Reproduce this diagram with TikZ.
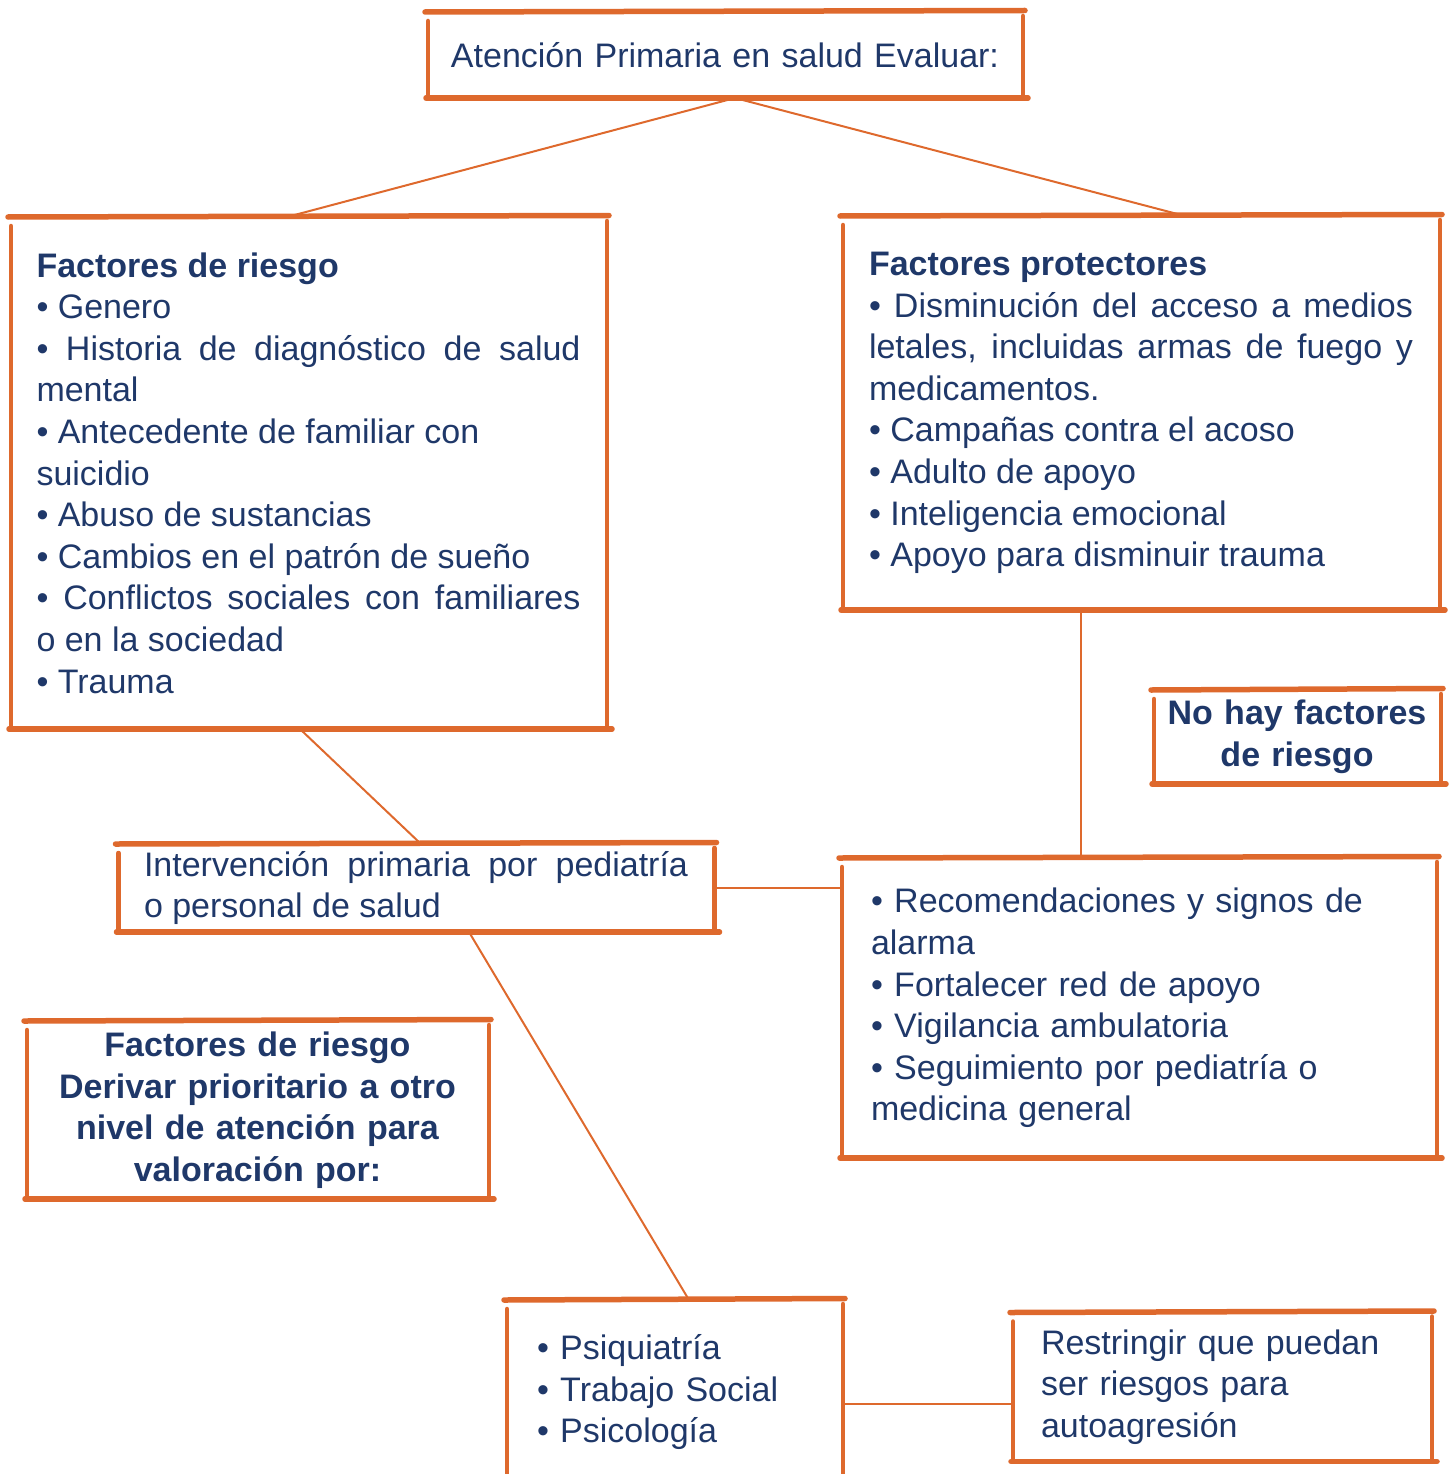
\documentclass[tikz,border=0pt]{standalone}
\usepackage{fontspec}
\setmainfont{Liberation Sans}
\usepackage{xcolor}
\definecolor{rust}{RGB}{222,105,45}
\definecolor{navy}{RGB}{31,56,105}
\hyphenpenalty=10000
\exhyphenpenalty=10000
\tolerance=10000

\begin{document}
\begin{tikzpicture}[x=1pt, y=-1pt,
  sketch/.style={draw=rust, line cap=round},
  sketchbox/.style={inner ysep=0pt, outer sep=0pt, text=navy,
    font=\fontsize{34}{41.6}\selectfont,
    append after command={
      ([xshift=-2pt]\tikzlastnode.north west) edge[sketch, line width=5.5pt] ([xshift=2pt, yshift=1.5pt]\tikzlastnode.north east)
      ([xshift=1pt, yshift=-9pt]\tikzlastnode.north west) edge[sketch, line width=4.5pt] ([xshift=1pt, yshift=2pt]\tikzlastnode.south west)
      ([yshift=-4pt]\tikzlastnode.north east) edge[sketch, line width=4.5pt] ([yshift=1pt]\tikzlastnode.south east)
      ([xshift=-1pt]\tikzlastnode.south west) edge[sketch, line width=5.5pt] ([xshift=5pt]\tikzlastnode.south east)
    }},
  link/.style={draw=rust, line width=2pt}]
\useasboundingbox (0,0) rectangle (1448,1474);

% Top of the chart
\node[sketchbox, minimum width=596pt, minimum height=86pt, text width=560pt, align=center] (evaluar) at (725,55) {Atención Primaria en salud Evaluar:};

% Risk and protective factors
\node[sketchbox, minimum width=597pt, minimum height=512pt, inner xsep=26.5pt, text width=544pt, align=justify] (riesgo) at (308.5,473) {\textbf{Factores de riesgo}\\
• Genero\\
• Historia de diagnóstico de salud\linebreak mental\\
• Antecedente de familiar con\\ suicidio\\
• Abuso de sustancias\\
• Cambios en el patrón de sueño\\
• Conflictos sociales con familiares\linebreak o en la sociedad\\
• Trauma};

\node[sketchbox, minimum width=598pt, minimum height=394pt, inner xsep=27pt, text width=544pt, align=justify] (protect) at (1141,413) {\textbf{Factores protectores}\\
• Disminución del acceso a medios\linebreak letales, incluidas armas de fuego y\linebreak medicamentos.\\
• Campañas contra el acoso\\
• Adulto de apoyo\\
• Inteligencia emocional\\
• Apoyo para disminuir trauma};

\node[sketchbox, minimum width=288pt, minimum height=94pt, inner xsep=9pt, text width=270pt, align=center, font=\fontsize{34}{41.6}\selectfont\bfseries] (nohay) at (1297,737) {No hay factores\\ de riesgo};

% Intervention and follow-up
\node[sketchbox, minimum width=597pt, minimum height=88pt, inner xsep=26.5pt, text width=544pt, align=justify] (interv) at (416,888) {Intervención primaria por pediatría\linebreak o personal de salud};

\node[sketchbox, minimum width=596pt, minimum height=300pt, inner xsep=30pt, text width=536pt, align=left] (seguim) at (1139,1008) {• Recomendaciones y signos de\\ alarma\\
• Fortalecer red de apoyo\\
• Vigilancia ambulatoria\\
• Seguimiento por pediatría o\\ medicina general};

\node[sketchbox, minimum width=463pt, minimum height=178pt, inner xsep=10pt, text width=443pt, align=center, font=\fontsize{34}{41.6}\selectfont\bfseries] (derivar) at (257.5,1110) {Factores de riesgo\\ Derivar prioritario a otro\\ nivel de atención para\\ valoración por:};

% Referral
\node[sketchbox, minimum width=337pt, minimum height=184pt, inner xsep=31pt, text width=275pt, align=left] (especial) at (674.5,1392) {• Psiquiatría\\
• Trabajo Social\\
• Psicología};

\node[sketchbox, minimum width=420pt, minimum height=149pt, inner xsep=29pt, text width=362pt, align=left] (restring) at (1222,1387) {Restringir que puedan\\ ser riesgos para\\ autoagresión};

% Connectors
\draw[link] ([xshift=10pt]evaluar.south) -- ([xshift=-21.5pt]riesgo.north);
\draw[link] ([xshift=10pt]evaluar.south) -- ([xshift=44pt]protect.north);
\draw[link] ([xshift=-8.5pt]riesgo.south) -- ([xshift=5pt]interv.north);
\draw[link] ([xshift=-60pt]protect.south) -- ([xshift=-58pt]seguim.north);
\draw[link] (interv.east) -- (interv.east -| seguim.west);
\draw[link] ([xshift=53pt]interv.south) -- ([xshift=14.5pt]especial.north);
\draw[link] ([yshift=-12pt]especial.east) -- ([yshift=-12pt]especial.east -| restring.west);
\end{tikzpicture}
\end{document}
